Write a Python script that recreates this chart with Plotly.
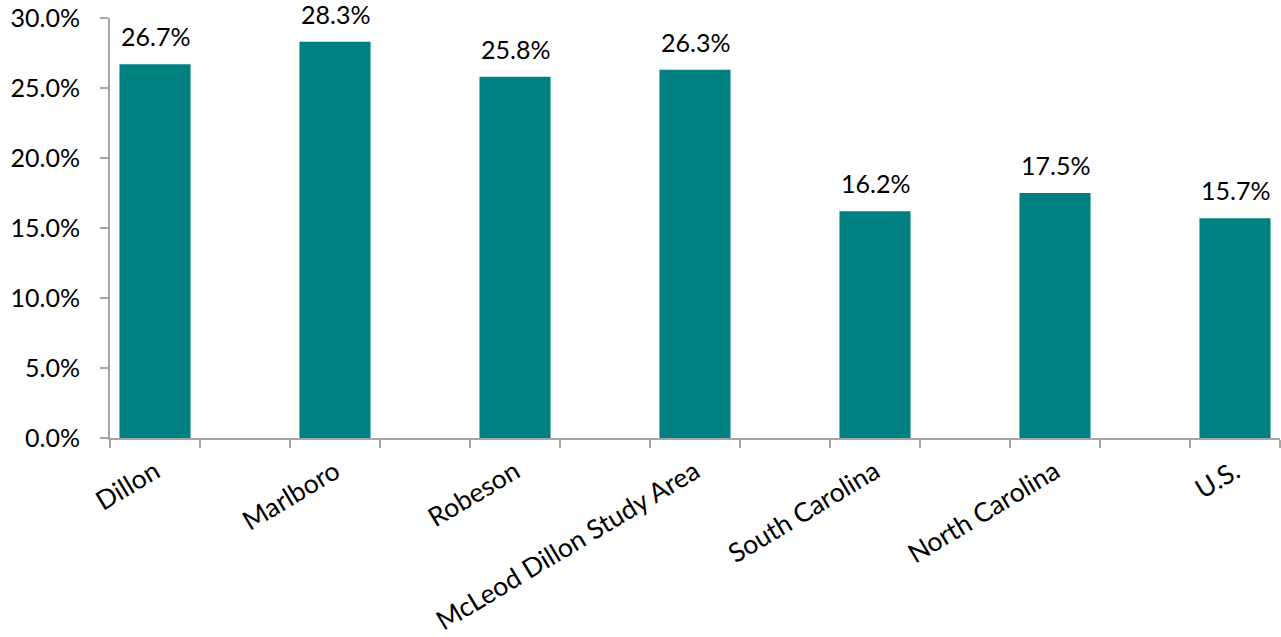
import plotly.graph_objects as go

categories = ["Dillon", "Marlboro", "Robeson", "McLeod Dillon Study Area",
              "South Carolina", "North Carolina", "U.S."]
values = [0.267, 0.283, 0.258, 0.263, 0.162, 0.175, 0.157]

BAR_COLOR = "#008080"
AXIS_COLOR = "#a6a6a6"
FONT = "Lato"

# each category sits in every other slot, leaving a blank slot between bars
positions = [2 * i for i in range(len(categories))]
slot_edges = [p - 0.5 for p in range(2 * len(categories))]

fig = go.Figure()
fig.add_trace(go.Bar(
    x=positions,
    y=values,
    width=0.79,
    marker=dict(color=BAR_COLOR, line=dict(width=0)),
    hoverinfo="skip",
))

for x, v in zip(positions, values):
    fig.add_annotation(
        x=x, y=v, text=f"{v * 100:.1f}%",
        showarrow=False, yanchor="bottom", yshift=11,
        font=dict(family=FONT, size=25, color="#000000"),
    )

fig.update_layout(
    width=1281, height=637,
    margin=dict(l=110, r=1, t=18, b=199, autoexpand=False),
    paper_bgcolor="white", plot_bgcolor="white",
    showlegend=False,
    font=dict(family=FONT, size=25, color="#000000"),
)

fig.update_xaxes(
    range=[-0.5, 2 * len(categories) - 1.5],
    tickmode="array", tickvals=positions, ticktext=categories,
    tickangle=-31, ticks="", showgrid=False, zeroline=False,
    showline=True, linecolor=AXIS_COLOR, linewidth=2,
    automargin=False, ticklabelstandoff=6,
    minor=dict(tickmode="array", tickvals=slot_edges, ticks="outside",
               ticklen=8, tickcolor=AXIS_COLOR, tickwidth=2, showgrid=False),
    tickfont=dict(family=FONT, size=26.5, color="#000000"),
)

fig.update_yaxes(
    range=[0, 0.30], dtick=0.05, tickformat=".1%",
    ticks="outside", ticklen=8, tickcolor=AXIS_COLOR, tickwidth=2,
    showline=True, linecolor=AXIS_COLOR, linewidth=2,
    showgrid=False, zeroline=False,
    automargin=False, ticklabelstandoff=15,
    tickfont=dict(family=FONT, size=25, color="#000000"),
)

fig.write_html("out.html")
